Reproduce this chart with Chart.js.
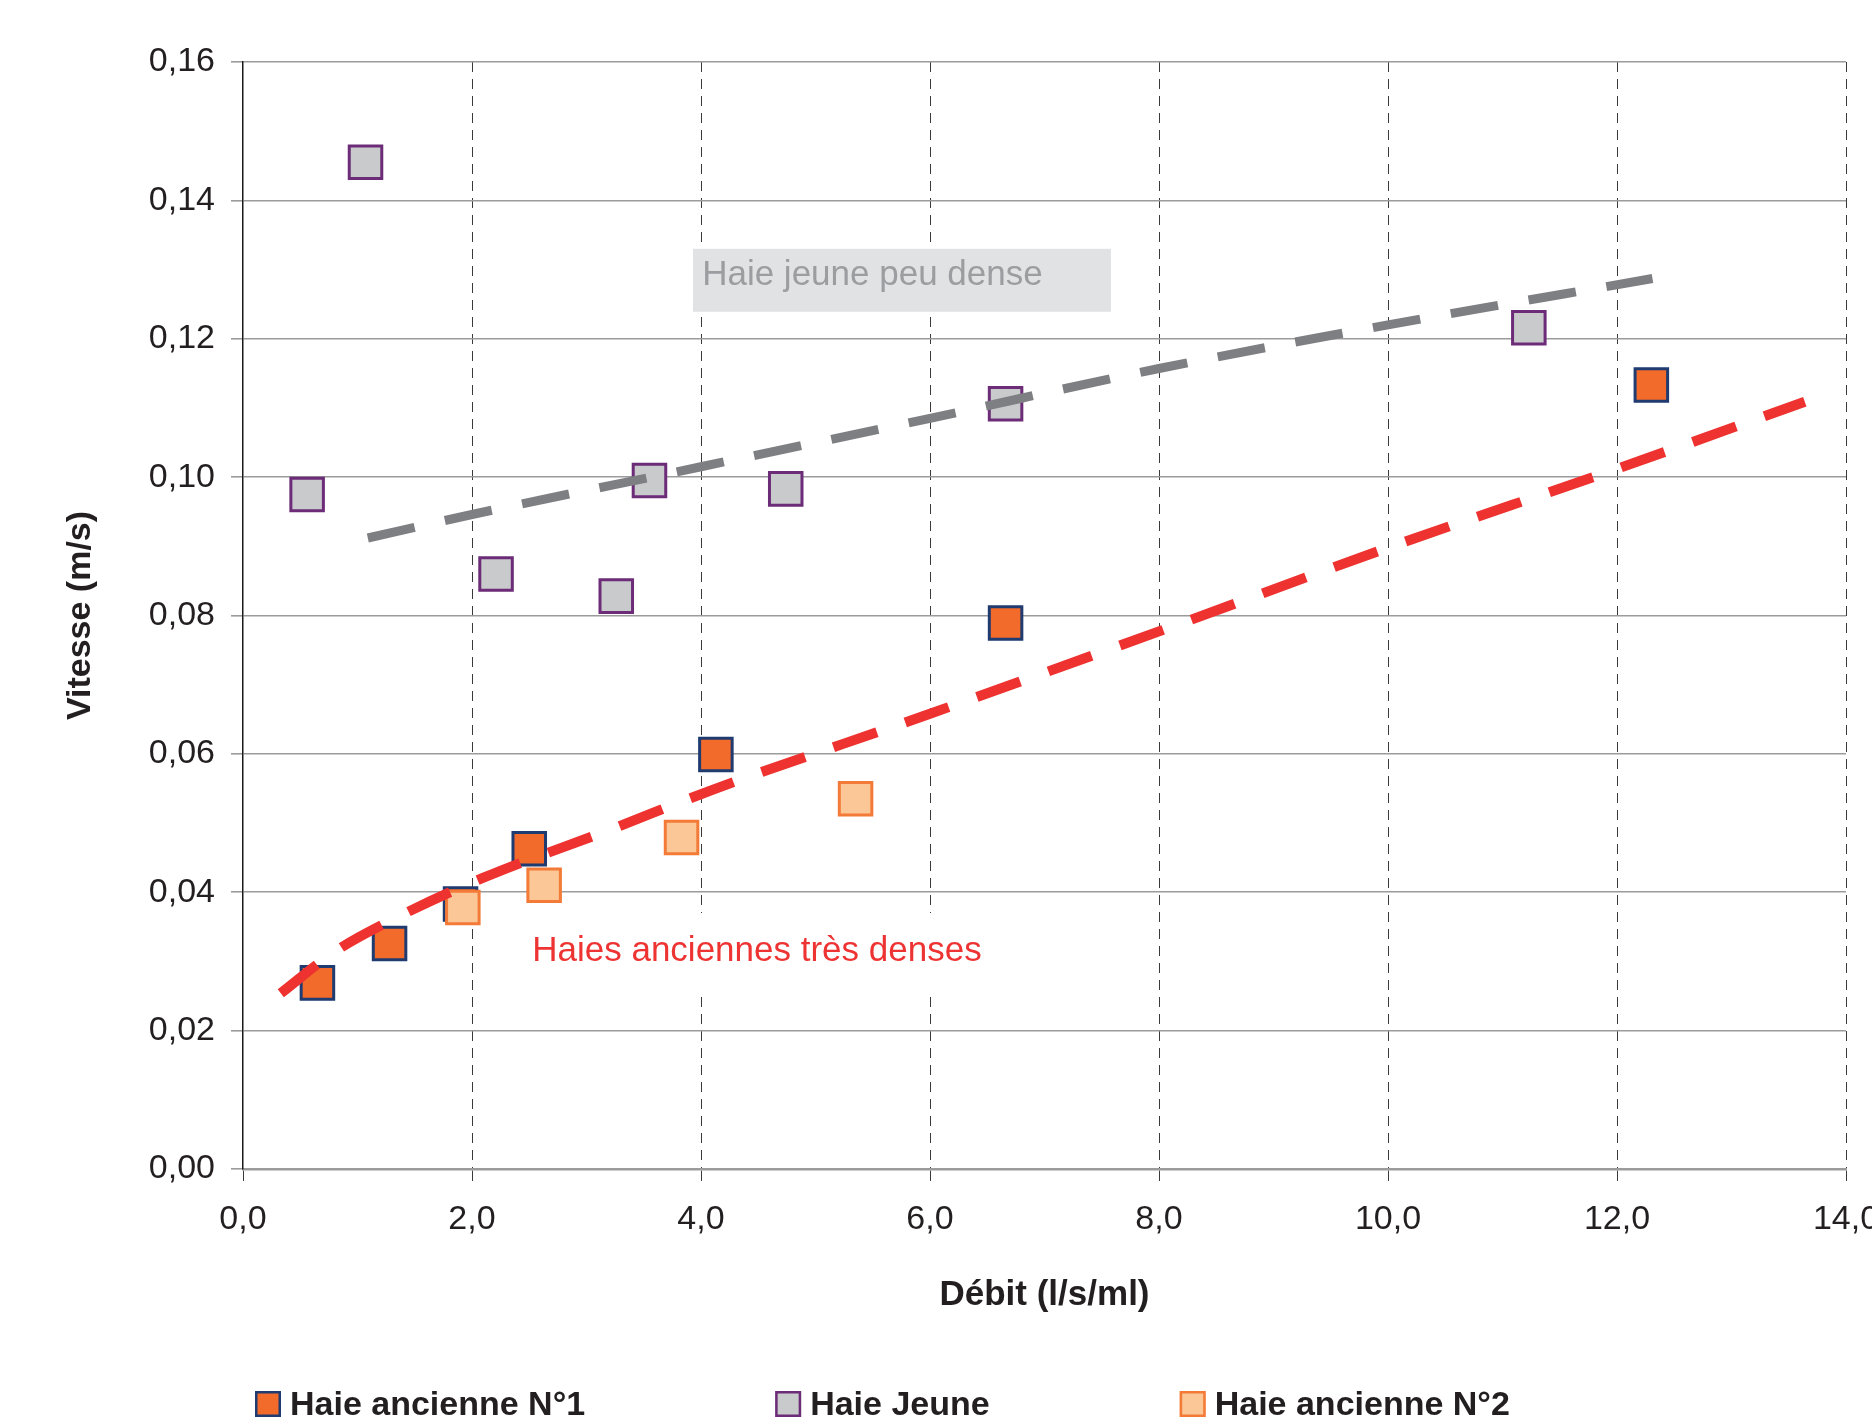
<!DOCTYPE html>
<html>
<head>
<meta charset="utf-8">
<script src="https://cdn.jsdelivr.net/npm/chart.js@4.4.1/dist/chart.umd.min.js"></script>
<style>
  html, body { margin: 0; padding: 0; background: #fff; overflow: hidden; }
  #wrap { width: 1872px; height: 1417px; position: relative; }
</style>
</head>
<body>
<div id="wrap"><canvas id="chart"></canvas></div>
<script>
const FONT = '"Liberation Sans", Arial, Helvetica, sans-serif';

const seriesNames = ['Haie ancienne N°1', 'Haie Jeune', 'Haie ancienne N°2'];

// débit (l/s/ml) et vitesse (m/s)
const ancienne1X = [0.65, 1.28, 1.90, 2.50, 4.13, 6.66, 12.30];
const ancienne1Y = [0.0269, 0.0326, 0.0383, 0.0463, 0.0599, 0.0789, 0.1133];

const jeuneX = [0.56, 1.07, 2.21, 3.26, 3.55, 4.74, 6.66, 11.23];
const jeuneY = [0.0975, 0.1455, 0.0860, 0.0828, 0.0995, 0.0983, 0.1106, 0.1216];

const ancienne2X = [1.92, 2.63, 3.83, 5.35];
const ancienne2Y = [0.0378, 0.0410, 0.0479, 0.0535];

// courbes de tendance (relevées point par point)
const trendJeuneX = [1.09, 2, 4, 6, 8, 10, 12.31];
const trendJeuneY = [0.0912, 0.0946, 0.1015, 0.1085, 0.1157, 0.1220, 0.1287];
const trendAncX = [0.33, 0.8, 1.3, 2.1, 3.2, 4.1, 6, 8, 10, 12, 13.64];
const trendAncY = [0.0254, 0.0314, 0.0360, 0.0421, 0.0490, 0.0548, 0.0658, 0.0777, 0.0898, 0.1012, 0.1109];

const xTicks = [0, 2, 4, 6, 8, 10, 12, 14];
const xTickLabels = ['0,0', '2,0', '4,0', '6,0', '8,0', '10,0', '12,0', '14,0'];
const yTicks = [0, 0.02, 0.04, 0.06, 0.08, 0.10, 0.12, 0.14, 0.16];
const yTickLabels = ['0,00', '0,02', '0,04', '0,06', '0,08', '0,10', '0,12', '0,14', '0,16'];

// étiquettes posées sur le graphique (coordonnées en unités des axes)
const labelJeune = { text: 'Haie jeune peu dense', x: 4.01, y: 0.1278, box: [3.93, 7.58, 0.1239, 0.1330] };
const labelAnc = { text: 'Haies anciennes très denses', x: 2.526, y: 0.0300, box: [2.45, 6.6, 0.0254, 0.0370] };

function toPoints(xs, ys) {
  return xs.map((x, i) => ({ x, y: ys[i] }));
}

function squares(label, xs, ys, fill, stroke, order) {
  return {
    label,
    data: toPoints(xs, ys),
    pointStyle: 'rect',
    pointRadius: 23,
    pointHoverRadius: 23,
    backgroundColor: fill,
    borderColor: stroke,
    borderWidth: 3,
    order
  };
}

function trend(xs, ys, color, width, dash) {
  return {
    label: 'tendance',
    isTrend: true,
    data: toPoints(xs, ys),
    showLine: true,
    borderColor: color,
    borderWidth: width,
    borderDash: dash,
    borderCapStyle: 'butt',
    cubicInterpolationMode: 'monotone',
    pointRadius: 0,
    fill: false,
    order: 0
  };
}

const annotations = {
  id: 'annotations',
  beforeDatasetsDraw(chart) {
    const { ctx, scales: { x, y } } = chart;
    ctx.save();
    // fond blanc sous le texte rouge
    let b = labelAnc.box;
    ctx.fillStyle = '#ffffff';
    ctx.fillRect(x.getPixelForValue(b[0]), y.getPixelForValue(b[3]),
      x.getPixelForValue(b[1]) - x.getPixelForValue(b[0]), y.getPixelForValue(b[2]) - y.getPixelForValue(b[3]));
    ctx.font = '35px ' + FONT;
    ctx.textBaseline = 'alphabetic';
    ctx.fillStyle = '#ee3333';
    ctx.fillText(labelAnc.text, x.getPixelForValue(labelAnc.x), y.getPixelForValue(labelAnc.y));

    b = labelJeune.box;
    ctx.fillStyle = '#e1e2e3';
    ctx.fillRect(x.getPixelForValue(b[0]), y.getPixelForValue(b[3]),
      x.getPixelForValue(b[1]) - x.getPixelForValue(b[0]), y.getPixelForValue(b[2]) - y.getPixelForValue(b[3]));
    ctx.fillStyle = '#9c9da1';
    ctx.fillText(labelJeune.text, x.getPixelForValue(labelJeune.x), y.getPixelForValue(labelJeune.y));
    ctx.restore();
  }
};

// légende en bas, dessinée à partir des jeux de données
const bottomLegend = {
  id: 'bottomLegend',
  afterDraw(chart) {
    const ctx = chart.ctx;
    const items = chart.data.datasets.filter(d => !d.isTrend);
    items.sort((a, b) => seriesNames.indexOf(a.label) - seriesNames.indexOf(b.label));
    ctx.save();
    ctx.font = 'bold 34px ' + FONT;
    ctx.textBaseline = 'alphabetic';
    let cx = 255;
    items.forEach(d => {
      ctx.fillStyle = d.backgroundColor;
      ctx.fillRect(cx, 1391, 26, 26);
      ctx.strokeStyle = d.borderColor;
      ctx.lineWidth = 2.5;
      ctx.strokeRect(cx + 1.25, 1392.25, 23.5, 23.5);
      ctx.fillStyle = '#231f20';
      ctx.fillText(d.label, cx + 35, 1415);
      cx += 35 + ctx.measureText(d.label).width + 190;
    });
    ctx.restore();
  }
};

new Chart(document.getElementById('chart'), {
  type: 'scatter',
  data: {
    datasets: [
      trend(trendJeuneX, trendJeuneY, '#7e7f83', 9, [48, 31]),
      trend(trendAncX, trendAncY, '#ee3230', 10, [46, 30]),
      squares(seriesNames[2], ancienne2X, ancienne2Y, '#fcc796', '#f37a37', 1),
      squares(seriesNames[0], ancienne1X, ancienne1Y, '#f26b2b', '#1f3b70', 2),
      squares(seriesNames[1], jeuneX, jeuneY, '#c9cacc', '#6c2c78', 3)
    ]
  },
  options: {
    responsive: true,
    maintainAspectRatio: false,
    animation: false,
    layout: { padding: { top: 62, right: 0, bottom: 77, left: 0 } },
    plugins: {
      legend: { display: false },
      tooltip: { enabled: false }
    },
    scales: {
      x: {
        type: 'linear',
        min: 0,
        max: 14,
        afterBuildTicks: s => { s.ticks = xTicks.map(v => ({ value: v })); },
        afterFit: s => { s.height = 171; s.paddingRight = 24; },
        ticks: {
          callback: (v, i) => xTickLabels[i],
          font: { family: FONT, size: 34 },
          color: '#231f20',
          padding: 18,
          maxRotation: 0,
          autoSkip: false
        },
        grid: {
          color: c => (c.index === 0 ? 'rgba(0,0,0,0)' : '#3a3a3a'),
          lineWidth: 1,
          tickLength: 12,
          tickColor: '#3a3a3a'
        },
        border: { color: '#9b9b9b', width: 2.5, dash: [10, 7] },
        title: {
          display: true,
          text: 'Débit (l/s/ml)',
          font: { family: FONT, size: 35, weight: 'bold' },
          color: '#231f20',
          padding: { top: 0, bottom: 24 }
        }
      },
      y: {
        min: 0,
        max: 0.16,
        afterBuildTicks: s => { s.ticks = yTicks.map(v => ({ value: v })); },
        afterFit: s => { s.width = 243; },
        ticks: {
          callback: (v, i) => yTickLabels[i],
          font: { family: FONT, size: 34 },
          color: '#231f20',
          padding: 16
        },
        grid: { color: '#9b9b9b', lineWidth: 1.6, tickLength: 12, tickColor: '#9b9b9b' },
        border: { color: '#1a1a1a', width: 1.5 },
        title: {
          display: true,
          text: 'Vitesse (m/s)',
          font: { family: FONT, size: 34, weight: 'bold' },
          color: '#231f20',
          padding: { top: 60, bottom: 0 }
        }
      }
    }
  },
  plugins: [annotations, bottomLegend]
});
</script>
</body>
</html>
